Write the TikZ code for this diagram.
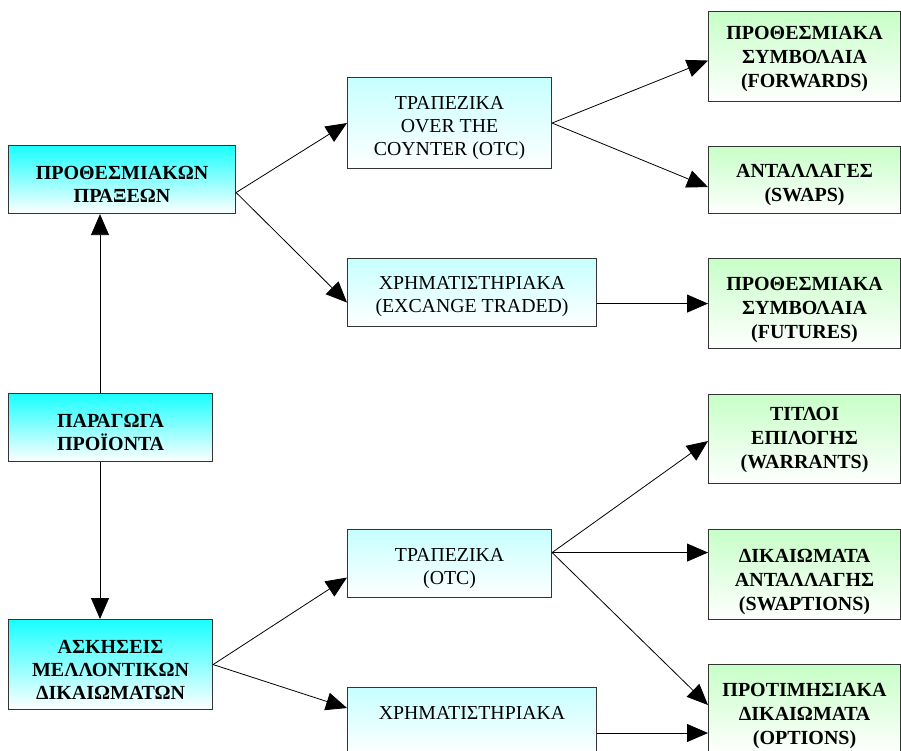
\documentclass[tikz,border=0pt]{standalone}
\usepackage{fontspec}
\setmainfont{Liberation Serif}
\usetikzlibrary{arrows.meta}
\begin{document}
\begin{tikzpicture}[x=1pt,y=-1pt,
  box/.style={rectangle, draw=black!80, line width=1.1pt, inner sep=0pt, anchor=north west, bottom color=white},
  leftbox/.style={box, top color=cyan!90!white},
  midbox/.style={box, top color=cyan!22!white},
  rightbox/.style={box, top color=green!22!white},
  ltxt/.style={align=center, inner sep=0pt, font=\fontsize{20}{23}\selectfont\bfseries},
  mtxt/.style={align=center, inner sep=0pt, font=\fontsize{19.8}{23}\selectfont},
  rtxt/.style={align=center, inner sep=0pt, font=\fontsize{20}{24}\selectfont\bfseries},
  arr/.style={draw=black, line width=0.8pt, -{Triangle[length=21pt,width=18pt]}}]
\useasboundingbox (0,0) rectangle (901,750);
\clip (0,0) rectangle (901,750);
% left column
\node[leftbox, minimum width=227pt, minimum height=68pt] (A) at (8,145) {};
\node[leftbox, minimum width=204pt, minimum height=68pt] (B) at (8,393) {};
\node[leftbox, minimum width=204pt, minimum height=90pt] (C) at (8,619) {};
% middle column
\node[midbox, minimum width=204pt, minimum height=91pt] (D) at (347,77) {};
\node[midbox, minimum width=249pt, minimum height=68pt] (E) at (347,258) {};
\node[midbox, minimum width=204pt, minimum height=68pt] (I) at (347,529) {};
\node[midbox, minimum width=249pt, minimum height=68pt] (J) at (347,687) {};
% right column
\node[rightbox, minimum width=192pt, minimum height=90pt] (F) at (708,11) {};
\node[rightbox, minimum width=192pt, minimum height=67pt] (G) at (708,146) {};
\node[rightbox, minimum width=192pt, minimum height=90pt] (H) at (708,258) {};
\node[rightbox, minimum width=192pt, minimum height=89pt] (K) at (708,394) {};
\node[rightbox, minimum width=192pt, minimum height=90pt] (L) at (708,529) {};
\node[rightbox, minimum width=192pt, minimum height=90pt] (M) at (708,664) {};
% texts
\node[ltxt] (At) at ([yshift=-5pt]A.center) {ΠΡΟΘΕΣΜΙΑΚΩΝ\\ΠΡΑΞΕΩΝ};
\node[ltxt] (Bt) at ([yshift=-5pt]B.center) {ΠΑΡΑΓΩΓΑ\\ΠΡΟΪΟΝΤΑ};
\node[ltxt] (Ct) at ([yshift=-5pt]C.center) {ΑΣΚΗΣΕΙΣ\\ΜΕΛΛΟΝΤΙΚΩΝ\\ΔΙΚΑΙΩΜΑΤΩΝ};
\node[mtxt] (Dt) at ([yshift=-5pt]D.center) {ΤΡΑΠΕΖΙΚΑ\\OVER THE\\COYNTER (OTC)};
\node[mtxt] (Et) at ([yshift=-4pt]E.center) {ΧΡΗΜΑΤΙΣΤΗΡΙΑΚΑ\\(EXCANGE TRADED)};
\node[mtxt] (It) at ([yshift=-5pt]I.center) {ΤΡΑΠΕΖΙΚΑ\\(OTC)};
\node[mtxt] (Jt) at ([yshift=-26pt]J.north) {ΧΡΗΜΑΤΙΣΤΗΡΙΑΚΑ};
\node[rtxt] (Ft) at ([yshift=-2pt]F.center) {ΠΡΟΘΕΣΜΙΑΚΑ\\ΣΥΜΒΟΛΑΙΑ\\(FORWARDS)};
\node[rtxt] (Gt) at ([yshift=-5pt]G.center) {ΑΝΤΑΛΛΑΓΕΣ\\(SWAPS)};
\node[rtxt] (Ht) at ([yshift=-6pt]H.center) {ΠΡΟΘΕΣΜΙΑΚΑ\\ΣΥΜΒΟΛΑΙΑ\\(FUTURES)};
\node[rtxt] (Kt) at ([yshift=-1pt]K.center) {ΤΙΤΛΟΙ\\ΕΠΙΛΟΓΗΣ\\(WARRANTS)};
\node[rtxt] (Lt) at ([yshift=-7pt]L.center) {ΔΙΚΑΙΩΜΑΤΑ\\ΑΝΤΑΛΛΑΓΗΣ\\(SWAPTIONS)};
\node[rtxt] (Mt) at ([yshift=-6pt]M.center) {ΠΡΟΤΙΜΗΣΙΑΚΑ\\ΔΙΚΑΙΩΜΑΤΑ\\(OPTIONS)};
% connectors
\coordinate (vx) at (100,0);
\draw[arr] (B.north -| vx) -- (A.south -| vx);
\draw[arr] (B.south -| vx) -- (C.north -| vx);
\coordinate (As) at ([yshift=-13pt]A.east);
\draw[arr] (As) -- (D.west);
\draw[arr] (As) -- ([yshift=-10pt]E.west);
\draw[arr] (D.east) -- ([yshift=-4pt]F.west);
\draw[arr] (D.east) -- ([yshift=-7pt]G.west);
\draw[arr] ([yshift=-11pt]E.east) -- ([yshift=-11pt]E.east -| H.west);
\draw[arr] (C.east) -- ([yshift=-14pt]I.west);
\draw[arr] (C.east) -- ([yshift=-21pt]J.north west);
\coordinate (Is) at ([yshift=11pt]I.east);
\draw[arr] (Is) -- ([yshift=-2pt]K.west);
\draw[arr] (Is) -- (Is -| L.west);
\draw[arr] (Is) -- ([yshift=-41pt]M.north west);
\draw[arr] ([yshift=-46pt]J.north east) -- ([yshift=-46pt]J.north east -| M.west);
\end{tikzpicture}
\end{document}
